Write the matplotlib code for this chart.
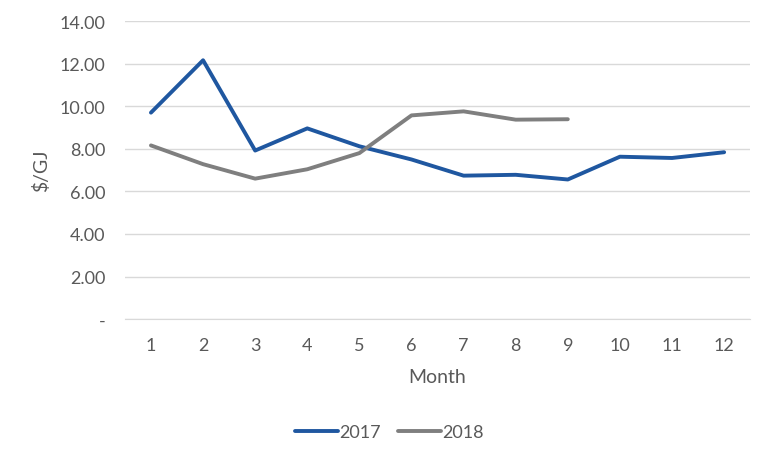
import matplotlib.pyplot as plt
from matplotlib.ticker import FuncFormatter

plt.rcParams['font.family'] = ['Lato', 'DejaVu Sans']

months = [1, 2, 3, 4, 5, 6, 7, 8, 9, 10, 11, 12]
price_2017 = [9.70, 12.16, 7.92, 8.96, 8.12, 7.50, 6.74, 6.78, 6.56, 7.63, 7.57, 7.84]
months_2018 = [1, 2, 3, 4, 5, 6, 7, 8, 9]
price_2018 = [8.16, 7.28, 6.60, 7.04, 7.80, 9.57, 9.76, 9.37, 9.39]

text_col = "#595959"

fig = plt.figure(figsize=(7.71, 4.6), dpi=100)
ax = fig.add_axes([0.162, 0.304, 0.811, 0.648])

ax.plot(months, price_2017, color="#1F57A0", lw=2.8, label="2017", solid_capstyle="round")
ax.plot(months_2018, price_2018, color="#7F7F7F", lw=2.8, label="2018", solid_capstyle="round")

ax.set_xlim(0.5, 12.5)
ax.set_ylim(0, 14)
ax.set_xticks(months)
ax.set_yticks(range(0, 15, 2))
# Excel-style accounting format: zero shows as a dash
ax.yaxis.set_major_formatter(FuncFormatter(lambda v, p: "-" if v == 0 else f"{v:.2f}"))
ax.grid(axis="y", color="#D9D9D9", lw=1)
ax.set_axisbelow(True)
for s in ["top", "right", "left"]:
    ax.spines[s].set_visible(False)
ax.spines["bottom"].set_color("#D9D9D9")
ax.tick_params(length=0, labelsize=13, colors=text_col)
ax.tick_params(axis="y", pad=14)
ax.tick_params(axis="x", pad=13)

ax.set_xlabel("Month", fontsize=14, color=text_col, labelpad=11)
ax.set_ylabel("$/GJ", fontsize=14, color=text_col, labelpad=7)

fig.legend(loc="center", bbox_to_anchor=(0.505, 0.058), ncol=2, frameon=False,
           fontsize=13, labelcolor=text_col, handlelength=2.4, handletextpad=0.1,
           columnspacing=0.9)

fig.savefig("out.png", dpi=100)
